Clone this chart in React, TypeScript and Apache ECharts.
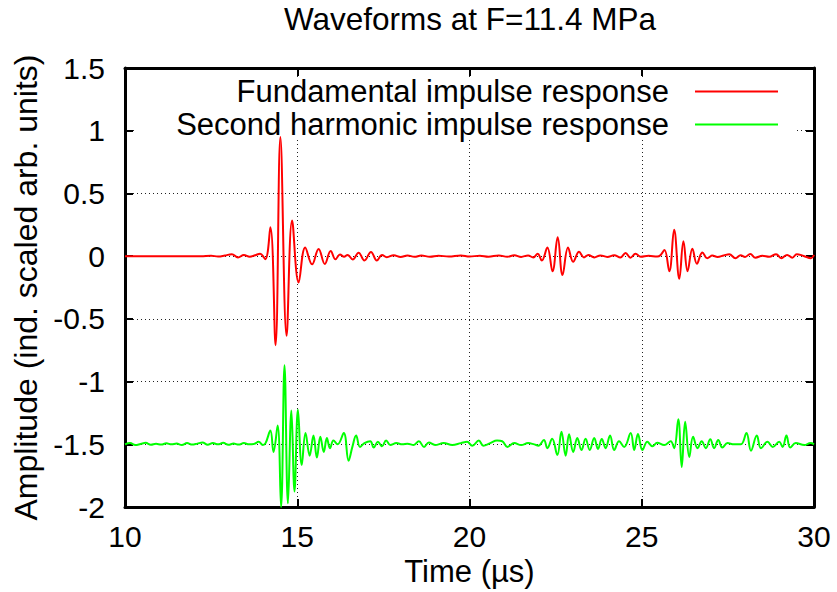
import React, { useEffect, useRef } from 'react';
import * as echarts from 'echarts';

const titleText = 'Waveforms at F=11.4 MPa';
const xAxisName = 'Time (µs)';
const yAxisName = 'Amplitude (ind. scaled arb. units)';
const seriesNames = ['Fundamental impulse response', 'Second harmonic impulse response'];
const seriesColors = ['#ff0000', '#00ff00'];
const xRange = [10, 30];
const xStep = 5;
const yRange = [-2, 1.5];
const yStep = 0.5;

// Fundamental impulse response: [time µs, amplitude]
const fundamental: [number, number][] = [
  [10, 0], [12.2, 0], [12.5, 0.004], [12.7, -0.003], [12.9, 0.005], [13.1, 0.016], [13.28, -0.01],
  [13.45, 0.01], [13.62, -0.005], [13.78, 0.008], [13.92, 0.02], [14.07, -0.024],
  [14.22, 0.23], [14.37, -0.71], [14.51, 0.95], [14.69, -0.635], [14.85, 0.285], [15.04, -0.21],
  [15.23, 0.07], [15.43, -0.065], [15.62, 0.058], [15.8, -0.062], [15.97, 0.042], [16.11, -0.025],
  [16.24, 0.014], [16.36, -0.005], [16.46, 0.01], [16.61, -0.026], [16.78, 0.028], [16.95, -0.034],
  [17.14, 0.034], [17.31, -0.034], [17.46, 0.01], [17.6, -0.008], [17.8, 0.008], [18.0, -0.006],
  [18.2, 0.006], [18.4, -0.005], [18.6, 0.005], [18.85, -0.004], [19.1, 0.004], [19.4, -0.003],
  [19.75, 0.006], [20.0, -0.003], [20.3, 0.004], [20.55, -0.004], [20.85, 0.006], [21.1, -0.005],
  [21.3, 0.008], [21.5, -0.006], [21.7, 0.006], [21.85, -0.01], [21.98, 0.02], [22.1, -0.035],
  [22.26, 0.07], [22.41, -0.12], [22.56, 0.15], [22.7, -0.15], [22.86, 0.07], [23.01, -0.045],
  [23.18, 0.035], [23.32, -0.01], [23.45, 0.01], [23.62, -0.01], [23.8, 0.006], [24.0, -0.006],
  [24.2, 0.008], [24.38, -0.01], [24.53, 0.025], [24.67, -0.012], [24.82, 0.02], [24.97, -0.005],
  [25.2, 0.003], [25.45, -0.003], [25.55, 0.01],
  [25.66, 0.05], [25.8, -0.12], [25.94, 0.21], [26.09, -0.18], [26.21, 0.12], [26.33, -0.12],
  [26.47, 0.06], [26.6, -0.06], [26.76, 0.03], [26.9, -0.016], [27.05, 0.005], [27.2, -0.006],
  [27.38, 0.006], [27.54, 0.016], [27.72, -0.016], [27.87, 0.008], [28.0, -0.006], [28.15, 0.018],
  [28.3, -0.012], [28.5, 0.003], [28.7, -0.005], [28.9, 0.016], [29.05, -0.016], [29.22, 0.01],
  [29.37, -0.012], [29.5, 0.016], [29.7, 0.002], [29.91, -0.016], [30, 0.01],
];

// Second harmonic impulse response (offset to -1.5): [time µs, amplitude]
const secondHarmonic: [number, number][] = [
  [10, -1.5], [10.15, -1.49], [10.3, -1.505], [10.45, -1.497], [10.6, -1.488], [10.75, -1.503],
  [10.9, -1.495], [11.05, -1.502], [11.2, -1.492], [11.35, -1.5], [11.5, -1.494], [11.65, -1.505],
  [11.8, -1.49], [11.95, -1.502], [12.1, -1.494], [12.25, -1.485], [12.4, -1.503], [12.55, -1.49],
  [12.7, -1.5], [12.85, -1.488], [13.0, -1.503], [13.15, -1.494], [13.3, -1.502], [13.45, -1.49],
  [13.6, -1.5], [13.75, -1.496], [13.88, -1.48], [14.0, -1.505], [14.08, -1.49],
  [14.22, -1.39], [14.31, -1.56], [14.43, -1.35], [14.53, -2.0], [14.63, -0.87], [14.73, -1.97],
  [14.83, -1.23], [14.92, -1.875], [15.02, -1.225], [15.13, -1.665], [15.24, -1.41], [15.36, -1.59],
  [15.47, -1.43], [15.57, -1.605], [15.67, -1.44], [15.77, -1.56], [15.86, -1.45], [15.95, -1.53],
  [16.05, -1.47], [16.17, -1.5], [16.35, -1.41], [16.49, -1.63], [16.6, -1.52], [16.71, -1.43],
  [16.82, -1.52], [16.95, -1.49], [17.12, -1.475], [17.22, -1.525], [17.34, -1.48], [17.46, -1.515],
  [17.58, -1.47], [17.7, -1.505], [17.88, -1.49], [18.05, -1.5], [18.2, -1.495], [18.38, -1.505],
  [18.53, -1.475], [18.68, -1.52], [18.82, -1.485], [19.0, -1.505], [19.25, -1.49], [19.5, -1.505],
  [19.75, -1.49], [19.93, -1.48], [20.08, -1.51], [20.27, -1.47], [20.4, -1.51], [20.6, -1.49],
  [20.8, -1.47], [20.95, -1.475], [21.1, -1.52], [21.3, -1.49], [21.5, -1.505], [21.7, -1.49],
  [21.88, -1.5], [22.0, -1.51], [22.16, -1.465], [22.26, -1.53], [22.4, -1.455], [22.55, -1.585],
  [22.67, -1.4], [22.79, -1.59], [22.89, -1.42], [23.01, -1.56], [23.13, -1.45], [23.25, -1.545],
  [23.37, -1.455], [23.49, -1.545], [23.62, -1.45], [23.73, -1.537], [23.84, -1.457], [23.95, -1.53],
  [24.08, -1.43], [24.2, -1.545], [24.34, -1.475], [24.49, -1.52], [24.68, -1.41], [24.78, -1.545],
  [24.89, -1.418], [25.02, -1.545], [25.16, -1.48], [25.31, -1.515], [25.45, -1.487], [25.65, -1.505],
  [25.84, -1.475], [25.94, -1.53], [26.06, -1.3], [26.16, -1.68], [26.26, -1.32], [26.38, -1.6],
  [26.49, -1.44], [26.62, -1.53], [26.74, -1.475], [26.86, -1.53], [26.99, -1.46], [27.1, -1.53],
  [27.22, -1.465], [27.34, -1.525], [27.49, -1.49], [27.68, -1.5], [27.88, -1.5], [28.04, -1.41],
  [28.17, -1.55], [28.34, -1.43], [28.46, -1.53], [28.65, -1.48], [28.8, -1.52], [28.99, -1.48],
  [29.09, -1.52], [29.2, -1.43], [29.31, -1.525], [29.47, -1.49], [29.72, -1.505], [29.9, -1.49],
  [30, -1.5],
];

const FONT = '"Liberation Sans", Arial, Helvetica, sans-serif';

function axisBase(extra: any) {
  return {
    type: 'value',
    axisLine: { show: true, onZero: false, lineStyle: { color: '#000', width: 3 } },
    axisTick: { show: true, inside: true, length: 8, lineStyle: { color: '#000', width: 2 } },
    ...extra,
  };
}

export default function App() {
  const ref = useRef<HTMLDivElement>(null);
  useEffect(() => {
    if (!ref.current) return;
    const chart = echarts.init(ref.current, undefined, { renderer: 'svg' });
    const gridLine = { show: true, lineStyle: { color: '#222', width: 1, type: [1, 3] } };
    const labelStyle = { fontFamily: FONT, fontSize: 30, color: '#000' };
    const option: any = {
      animation: false,
      backgroundColor: '#ffffff',
      title: {
        text: titleText,
        left: 470,
        top: 3,
        textAlign: 'center',
        padding: 0,
        textStyle: { fontFamily: FONT, fontSize: 31.5, fontWeight: 'normal', color: '#000' },
      },
      grid: { left: 125, right: 23, top: 68, bottom: 83, containLabel: false },
      legend: {
        orient: 'vertical',
        right: 59,
        top: 76,
        align: 'right',
        icon: 'rect',
        itemWidth: 83,
        itemHeight: 2,
        itemGap: 2,
        padding: 0,
        data: seriesNames,
        textStyle: { fontFamily: FONT, fontSize: 31, lineHeight: 30, color: '#000', padding: [0, 21, 0, 0] },
      },
      graphic: [
        { type: 'rect', z: 1, silent: true, shape: { x: 134, y: 78, width: 661, height: 61 }, style: { fill: '#ffffff' } },
      ],
      xAxis: [
        axisBase({
          position: 'bottom', min: xRange[0], max: xRange[1], interval: xStep,
          axisLabel: { ...labelStyle, margin: 14 },
          splitLine: gridLine,
          name: xAxisName, nameLocation: 'middle', nameGap: 47,
          nameTextStyle: { fontFamily: FONT, fontSize: 31, color: '#000' },
        }),
        axisBase({
          position: 'top', min: xRange[0], max: xRange[1], interval: xStep,
          axisLabel: { show: false }, splitLine: { show: false },
        }),
      ],
      yAxis: [
        axisBase({
          position: 'left', min: yRange[0], max: yRange[1], interval: yStep,
          axisLabel: { ...labelStyle, margin: 20 },
          splitLine: gridLine,
          name: yAxisName, nameLocation: 'middle', nameGap: 78,
          nameTextStyle: { fontFamily: FONT, fontSize: 32, color: '#000' },
        }),
        axisBase({
          position: 'right', min: yRange[0], max: yRange[1], interval: yStep,
          axisLabel: { show: false }, splitLine: { show: false },
        }),
      ],
      series: [
        {
          name: seriesNames[0], type: 'line', data: fundamental, xAxisIndex: 0, yAxisIndex: 0,
          showSymbol: false, symbol: 'none', smooth: 0.4, clip: true,
          lineStyle: { color: seriesColors[0], width: 2 }, itemStyle: { color: seriesColors[0] }, z: 3,
        },
        {
          name: seriesNames[1], type: 'line', data: secondHarmonic, xAxisIndex: 0, yAxisIndex: 0,
          showSymbol: false, symbol: 'none', smooth: 0.4, clip: true,
          lineStyle: { color: seriesColors[1], width: 2 }, itemStyle: { color: seriesColors[1] }, z: 2,
        },
      ],
    };
    chart.setOption(option);
    return () => chart.dispose();
  }, []);
  return (
    <div
      ref={ref}
      style={{ position: 'fixed', left: 0, top: 0, width: 837, height: 592, background: '#fff' }}
    />
  );
}
